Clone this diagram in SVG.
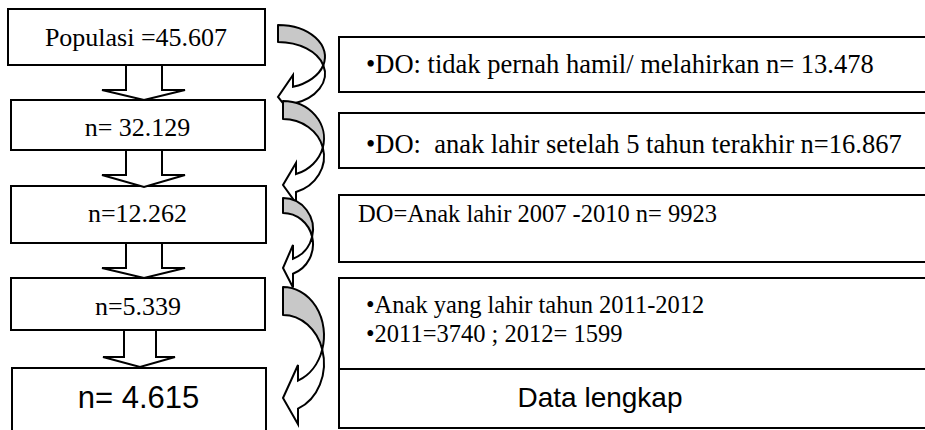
<svg xmlns="http://www.w3.org/2000/svg" width="925" height="430" viewBox="0 0 925 430">
<style>
.box{fill:#ffffff;stroke:#000000;stroke-width:2}
.serif{font-family:"Liberation Serif","Times New Roman",serif;fill:#000000}
.sans{font-family:"Liberation Sans",Arial,sans-serif;fill:#000000}
.l{font-size:26px;text-anchor:middle}
.r{font-size:26.5px}
.r2{font-size:24.5px}
.blk{fill:#ffffff;stroke:#000000;stroke-width:2;stroke-linejoin:miter}
.back{fill:#c8c8c8;stroke:#000000;stroke-width:2;stroke-linejoin:round}
.front{fill:#ffffff;stroke:#000000;stroke-width:2;stroke-linejoin:miter}
</style>
<rect width="925" height="430" fill="#ffffff"/>
<g id="n1"><rect class="box" x="8" y="9" width="257" height="56"/><text class="serif l" x="136" y="46">Populasi =45.607</text></g>
<g id="n2"><rect class="box" x="11" y="100" width="254" height="50"/><text class="serif l" x="137.5" y="136">n= 32.129</text></g>
<g id="n3"><rect class="box" x="11" y="186" width="255" height="57"/><text class="serif l" x="137.5" y="222">n=12.262</text></g>
<g id="n4"><rect class="box" x="11" y="278" width="254" height="52"/><text class="serif l" x="138" y="315">n=5.339</text></g>
<g id="n5"><rect class="box" x="12" y="368" width="254" height="80"/><text class="sans" x="138.5" y="408" font-size="31" text-anchor="middle">n= 4.615</text></g>
<g id="r1"><rect class="box" x="339" y="37" width="600" height="55"/><text class="serif r" x="366" y="73">•DO: tidak pernah hamil/ melahirkan n= 13.478</text></g>
<g id="r2"><rect class="box" x="339" y="113" width="600" height="55"/><text class="serif r" x="366" y="153" xml:space="preserve">•DO:  anak lahir setelah 5 tahun terakhir n=16.867</text></g>
<g id="r3"><rect class="box" x="339" y="195" width="600" height="67"/><text class="serif r2" x="358" y="222">DO=Anak lahir 2007 -2010 n= 9923</text></g>
<g id="r4"><rect class="box" x="339" y="278" width="600" height="91"/><text class="serif r2" x="366" y="313">•Anak yang lahir tahun 2011-2012</text><text class="serif r2" x="366" y="342">•2011=3740 ; 2012= 1599</text></g>
<g id="r5"><rect class="box" x="339" y="369" width="600" height="59"/><text class="sans" x="600" y="407" font-size="28" text-anchor="middle">Data lengkap</text></g>
<g id="connectors">
<path class="blk" d="M126,65 L162,65 L162,90 L185,90 L144,100 L102,90 L126,90 Z"/>
<path class="blk" d="M126,150 L162,150 L162,175 L185,175 L144,187 L102,175 L126,175 Z"/>
<path class="blk" d="M126,243 L162,243 L162,268 L185,268 L144,278 L102,268 L126,268 Z"/>
<path class="blk" d="M124,330 L156,330 L156,357 L175,357 L140,367 L103,357 L124,357 Z"/>
<path class="back" d="M278,25 A47,31.75 0 0 1 323.28,65.25 A47,31.75 0 0 0 278,42 Z"/>
<path class="front" d="M323.28,65.25 A47,31.75 0 0 1 293,86.84 L293,74.99 L278,97 L293,115.69 L293,103.84 A47,31.75 0 0 0 323.28,65.25 Z"/>
<path class="back" d="M283,101 A41,37.5 0 0 1 322.8,147.5 A41,37.5 0 0 0 283,119 Z"/>
<path class="front" d="M322.8,147.5 A41,37.5 0 0 1 296,174.07 L296,163 L283,185 L296,203.14 L296,192.07 A41,37.5 0 0 0 322.8,147.5 Z"/>
<path class="back" d="M283,198 A30,31.25 0 0 1 312.12,236.75 A30,31.25 0 0 0 283,213 Z"/>
<path class="front" d="M312.12,236.75 A30,31.25 0 0 1 293,258.71 L293,245 L283,268 L293,287.42 L293,273.71 A30,31.25 0 0 0 312.12,236.75 Z"/>
<path class="back" d="M283,287 A41,48.5 0 0 1 322.25,349.5 A41,48.5 0 0 0 283,315 Z"/>
<path class="front" d="M322.25,349.5 A41,48.5 0 0 1 298,380.64 L298,365 L283,398 L298,424.28 L298,408.64 A41,48.5 0 0 0 322.25,349.5 Z"/>
</g>
</svg>
